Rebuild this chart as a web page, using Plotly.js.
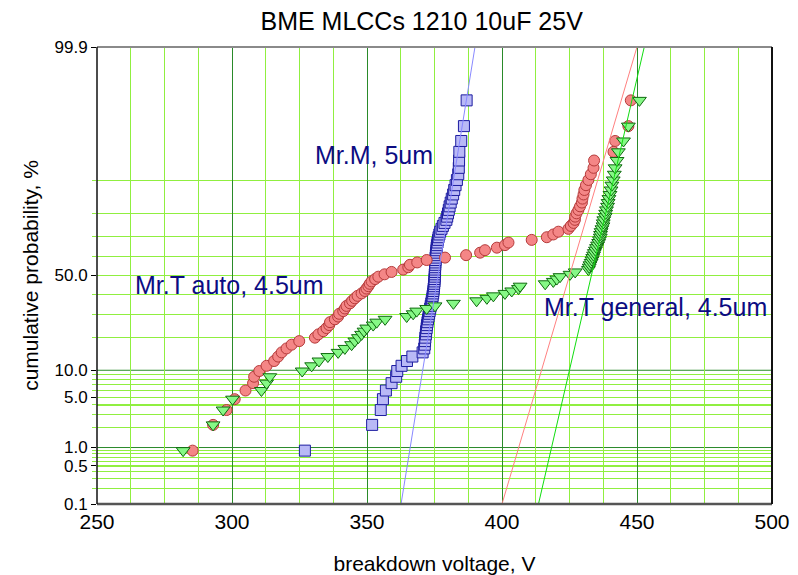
<!DOCTYPE html>
<html>
<head>
<meta charset="utf-8">
<script src="https://cdn.plot.ly/plotly-3.0.1.min.js"></script>
<style>
  html, body { margin: 0; padding: 0; background: #fff; }
  #chart { width: 798px; height: 575px; }
</style>
</head>
<body>
<div id="chart"></div>
<script>
// Breakdown voltages (V) of each lot, sorted ascending
const voltsM = [
  327.0, 351.9, 355.1, 355.9, 357.0, 359.1, 360.8, 361.2, 362.8, 364.8,
  366.8, 370.6, 371.2, 371.4, 371.5, 371.6, 371.8, 371.9, 372.1, 372.2,
  372.4, 372.6, 372.8, 373.0, 373.2, 373.4, 373.6, 373.8, 374.0, 374.2,
  374.3, 374.5, 374.6, 374.7, 374.8, 374.9, 375.0, 375.0, 375.1, 375.1,
  375.2, 375.2, 375.2, 375.3, 375.3, 375.4, 375.4, 375.5, 375.6, 375.7,
  375.8, 375.9, 376.1, 376.3, 376.5, 376.8, 377.1, 377.6, 378.1, 378.7,
  379.4, 379.7, 380.0, 380.3, 380.6, 381.0, 381.4, 381.9, 382.3, 382.8,
  383.3, 383.8, 384.0, 384.1, 384.2, 384.9, 385.9, 386.9
];
const voltsTAuto = [
  285.4, 293.0, 298.0, 301.0, 305.0, 307.8, 308.2, 310.1, 312.8, 315.6,
  317.1, 318.4, 320.2, 322.1, 324.9, 330.7, 332.0, 333.8, 335.0, 336.0,
  336.3, 338.1, 339.3, 339.7, 341.2, 341.8, 342.4, 343.7, 344.5, 345.5,
  346.5, 348.0, 349.2, 349.8, 350.5, 351.0, 351.7, 353.0, 354.2, 356.5,
  359.1, 363.4, 365.3, 365.9, 368.6, 372.1, 378.9, 386.7, 391.9, 393.7,
  398.1, 401.1, 402.4, 411.0, 416.6, 419.0, 420.9, 424.6, 425.5, 426.5,
  427.0, 427.1, 427.6, 428.3, 428.9, 429.6, 429.8, 430.2, 430.5, 431.1,
  432.0, 432.9, 433.9, 434.1, 441.3, 441.9, 446.8, 447.7
];
const voltsTGeneral = [
  281.9, 293.0, 296.7, 300.2, 310.9, 312.8, 314.0, 326.0, 329.5, 332.2,
  335.5, 339.3, 341.8, 344.3, 345.5, 346.8, 348.0, 348.9, 349.9, 352.3,
  353.6, 356.7, 364.7, 367.1, 368.4, 372.1, 375.2, 382.0, 390.6, 394.4,
  396.8, 401.1, 403.6, 406.1, 406.7, 416.0, 419.0, 420.3, 421.5, 425.2,
  427.1, 432.0, 432.3, 432.6, 433.0, 433.3, 433.6, 433.9, 434.2, 434.6,
  435.0, 435.4, 435.8, 436.1, 436.4, 436.5, 436.7, 437.0, 437.4, 437.5,
  437.7, 438.2, 438.4, 438.7, 439.1, 439.3, 439.6, 440.0, 440.4, 440.7,
  441.2, 441.6, 441.9, 442.6, 443.1, 445.0, 446.8, 450.9
];

// Normal-distribution fit lines (mean, sigma in V) for M, T auto, T general
const fitMean  = [376.3, 425.0, 433.1];
const fitSigma = [4.43, 8.09, 6.34];

// Probability axis: labelled ticks and grid lines (percent)
const tickPercents = [0.1, 0.5, 1.0, 5.0, 10.0, 50.0, 99.9];
const tickLabels   = ['0.1', '0.5', '1.0', '5.0', '10.0', '50.0', '99.9'];
const gridPercents = [0.2, 0.3, 0.4, 0.5, 0.6, 0.7, 0.8, 0.9,
                      2, 3, 4, 5, 6, 7, 8, 9,
                      20, 30, 40, 50, 60, 70, 80, 90];
const darkGridPercents = [1, 10];

const labels = ['Mr.M, 5um', 'Mr.T auto, 4.5um', 'Mr.T general, 4.5um'];

// Inverse standard normal CDF (Acklam's rational approximation)
function probit(p) {
  const a = [-3.969683028665376e+01, 2.209460984245205e+02, -2.759285104469687e+02,
             1.383577518672690e+02, -3.066479806614716e+01, 2.506628277459239e+00];
  const b = [-5.447609879822406e+01, 1.615858368580409e+02, -1.556989798598866e+02,
             6.680131188771972e+01, -1.328068155288572e+01];
  const c = [-7.784894002430293e-03, -3.223964580411365e-01, -2.400758277161838e+00,
             -2.549732539343734e+00, 4.374664141464968e+00, 2.938163982698783e+00];
  const d = [7.784695709041462e-03, 3.224671290700398e-01, 2.445134137142996e+00,
             3.754408661907416e+00];
  const pl = 0.02425, ph = 1 - pl;
  let q, r;
  if (p < pl) {
    q = Math.sqrt(-2 * Math.log(p));
    return (((((c[0]*q+c[1])*q+c[2])*q+c[3])*q+c[4])*q+c[5]) /
           ((((d[0]*q+d[1])*q+d[2])*q+d[3])*q+1);
  }
  if (p > ph) {
    q = Math.sqrt(-2 * Math.log(1 - p));
    return -(((((c[0]*q+c[1])*q+c[2])*q+c[3])*q+c[4])*q+c[5]) /
            ((((d[0]*q+d[1])*q+d[2])*q+d[3])*q+1);
  }
  q = p - 0.5; r = q * q;
  return (((((a[0]*r+a[1])*r+a[2])*r+a[3])*r+a[4])*r+a[5])*q /
         (((((b[0]*r+b[1])*r+b[2])*r+b[3])*r+b[4])*r+1);
}
const zOfPercent = pc => probit(pc / 100);

// Median-rank (Benard) plotting positions, on the probit scale
function medianRanks(vals) {
  const n = vals.length;
  return vals.map((v, i) => probit((i + 1 - 0.3) / (n + 0.4)));
}

const lightGrid = '#90ef40';
const darkGrid = '#2a8a2a';
const zTop = zOfPercent(99.9), zBot = zOfPercent(0.1);

function pointTrace(vals, symbol, fill, edge, size) {
  return {
    type: 'scatter', mode: 'markers', x: vals, y: medianRanks(vals),
    marker: { symbol: symbol, size: size, color: fill, line: { color: edge, width: 1 } },
    hoverinfo: 'x+y', showlegend: false
  };
}
function fitTrace(i, color) {
  const zs = [zBot - 0.3, zTop + 0.3];
  return {
    type: 'scatter', mode: 'lines',
    x: zs.map(z => fitMean[i] + fitSigma[i] * z), y: zs,
    line: { color: color, width: 1 }, hoverinfo: 'skip', showlegend: false
  };
}

const traces = [
  pointTrace(voltsM, 'square', '#b9b9f6', '#1c1ca0', 11),
  pointTrace(voltsTAuto, 'circle', '#f48686', '#b53a3a', 11),
  pointTrace(voltsTGeneral, 'triangle-down', '#86f886', '#0e6a0e', 12),
  fitTrace(0, '#8888ff'),
  fitTrace(1, '#ff8080'),
  fitTrace(2, '#10dd10')
];

const shapes = [];
darkGridPercents.forEach(pc => shapes.push({
  type: 'line', xref: 'paper', x0: 0, x1: 1, yref: 'y',
  y0: zOfPercent(pc), y1: zOfPercent(pc),
  line: { color: darkGrid, width: 1 }, layer: 'between'
}));
// Plot frame
shapes.push({ type: 'line', xref: 'paper', yref: 'paper', x0: 0, x1: 1, y0: 1, y1: 1,
              line: { color: '#8a8a8a', width: 2 }, layer: 'above' });
shapes.push({ type: 'line', xref: 'paper', yref: 'paper', x0: 0, x1: 1, y0: 0, y1: 0,
              line: { color: '#555555', width: 2.5 }, layer: 'above' });
shapes.push({ type: 'line', xref: 'paper', yref: 'paper', x0: 0, x1: 0, y0: 0, y1: 1,
              line: { color: '#111111', width: 1.5 }, layer: 'above' });
shapes.push({ type: 'line', xref: 'paper', yref: 'paper', x0: 1, x1: 1, y0: 0, y1: 1,
              line: { color: '#111111', width: 2 }, layer: 'above' });

const annFont = { family: 'Liberation Sans, Arial, sans-serif', size: 25, color: '#0c0c82' };
const annotations = [
  { text: labels[0], x: 330, y: zOfPercent(94.9), xref: 'x', yref: 'y', showarrow: false, xanchor: 'left', yanchor: 'middle', font: annFont },
  { text: labels[1], x: 263.5, y: zOfPercent(45.0), xref: 'x', yref: 'y', showarrow: false, xanchor: 'left', yanchor: 'middle', font: annFont },
  { text: labels[2], x: 414.8, y: zOfPercent(33.6), xref: 'x', yref: 'y', showarrow: false, xanchor: 'left', yanchor: 'middle', font: annFont }
];

const layout = {
  width: 798, height: 575,
  margin: { l: 97, r: 26, t: 47, b: 71 },
  paper_bgcolor: '#ffffff', plot_bgcolor: '#ffffff',
  font: { family: 'Liberation Sans, Arial, sans-serif', color: '#000' },
  title: {
    text: 'BME MLCCs 1210 10uF 25V',
    font: { family: 'Liberation Sans, Arial, sans-serif', size: 25, color: '#000' },
    xref: 'paper', x: 0.481, xanchor: 'center',
    yref: 'container', y: 0.963, yanchor: 'middle'
  },
  xaxis: {
    range: [250, 500], tickmode: 'linear', tick0: 250, dtick: 50,
    showgrid: true, gridcolor: darkGrid, gridwidth: 1,
    minor: { dtick: 12.5, showgrid: true, gridcolor: lightGrid, gridwidth: 1.2, ticks: '' },
    zeroline: false, showline: false, ticks: '', ticklabelstandoff: 3,
    tickfont: { family: 'Liberation Sans, Arial, sans-serif', size: 21, color: '#000' },
    title: { text: 'breakdown voltage, V', standoff: 24,
             font: { family: 'Liberation Sans, Arial, sans-serif', size: 21, color: '#000' } }
  },
  yaxis: {
    range: [zBot, zTop], tickmode: 'array',
    tickvals: tickPercents.map(zOfPercent), ticktext: tickLabels,
    showgrid: false, zeroline: false, showline: false,
    ticks: 'outside', ticklen: 5, tickcolor: '#000', tickwidth: 1,
    minor: { tickmode: 'array', tickvals: gridPercents.map(zOfPercent),
             showgrid: true, gridcolor: lightGrid, gridwidth: 1.2,
             ticks: 'outside', ticklen: 4, tickcolor: lightGrid },
    tickfont: { family: 'Liberation Sans, Arial, sans-serif', size: 17, color: '#000' },
    title: { text: 'cumulative probability, %', standoff: 10,
             font: { family: 'Liberation Sans, Arial, sans-serif', size: 21, color: '#000' } }
  },
  shapes: shapes,
  annotations: annotations
};

Plotly.newPlot('chart', traces, layout, { displayModeBar: false, staticPlot: true });
</script>
</body>
</html>
